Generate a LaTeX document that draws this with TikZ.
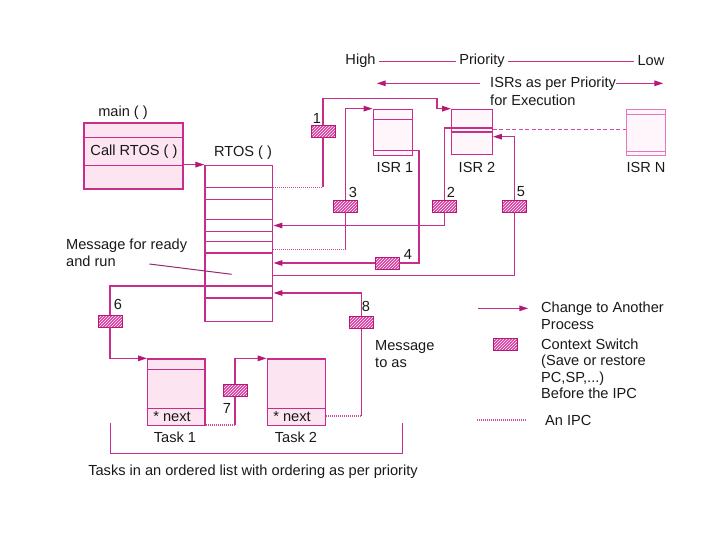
\documentclass[tikz,border=0pt]{standalone}
\usepackage{fontspec}
\setmainfont{Liberation Sans}
\usepackage{xcolor}
\usepackage{tikz}
\usetikzlibrary{arrows.meta,patterns,calc}

\definecolor{rtosmag}{RGB}{200,45,140}
\definecolor{tipmag}{RGB}{180,25,120}
\definecolor{ctxmag}{RGB}{215,60,160}
\definecolor{cellfill}{RGB}{252,228,240}
\definecolor{isrfill}{RGB}{254,246,250}
\definecolor{isrlight}{RGB}{228,120,190}
\definecolor{inktext}{RGB}{25,25,25}
\definecolor{pointink}{RGB}{150,40,110}

\begin{document}
\begin{tikzpicture}[
  x=1pt, y=-1pt,
  font=\fontsize{14.6}{16.5}\selectfont, text=inktext,
  blk/.style  ={draw=rtosmag, line width=1.3pt, inner sep=0pt},
  div/.style  ={draw=rtosmag, line width=1.1pt},
  ctx/.style  ={draw=tipmag, line width=0.8pt, preaction={fill=ctxmag},
                pattern=north east lines, pattern color=white,
                minimum width=24pt, minimum height=12pt, inner sep=0pt},
  num/.style  ={inner sep=1pt},
  flow/.style ={draw=rtosmag, line width=1.3pt,
                -{Triangle[length=9pt,width=5.5pt,color=tipmag]}},
  ipc/.style  ={draw=rtosmag!85, line width=1.1pt, dash pattern=on 1pt off 1pt},
  dashln/.style={draw=rtosmag!85, line width=1pt, dash pattern=on 4pt off 2.5pt},
  thinln/.style={draw=rtosmag, line width=0.9pt},
  txt/.style  ={anchor=north west, align=left, inner sep=0pt},
]
\useasboundingbox (0,0) rectangle (720,540);

% ---------------- priority header ----------------
\node (high) at (360.5,61) {High};
\node (prio) at (482,61) {Priority};
\node (low)  at (651,61) {Low};
\draw[thinln] (high.east) -- (prio.west);
\draw[thinln] (prio.east) -- (low.west);

\node[anchor=west, inner sep=0pt] (isrs) at (490,83.3) {ISRs as per Priority};
\node[anchor=west, inner sep=0pt] (exec) at (490,100) {for Execution};
\coordinate (hiend) at (376.7,83.3);
\coordinate (loend) at (663.3,83.3);
\draw[flow, shorten <=10pt] (isrs.west) -- (hiend);
\draw[flow] (isrs.east) -- (loend);

% ---------------- main and RTOS ----------------
\node[blk, fill=cellfill, minimum width=99pt, minimum height=66pt] (main) at (133.5,156) {};
\draw[div] (main.west |- 0,137.7) -- (main.east |- 0,137.7);
\draw[div] (main.west |- 0,165.7) -- (main.east |- 0,165.7);
\node (mainlbl) at (123,113) {main ( )};
\node (call) at (134,152) {Call RTOS ( )};

\node[blk, fill=white, minimum width=67.7pt, minimum height=156.4pt] (rtos) at (238.9,243.5) {};
\foreach \yy in {187.3,199.3,219.3,231.5,241.7,253,286,298}
  \draw[div] (rtos.west |- 0,\yy) -- (rtos.east |- 0,\yy);
\node (rtoslbl) at (243,153) {RTOS ( )};

\draw[flow] (main.east |- rtos.north) -- (rtos.north west);

% ---------------- ISRs ----------------
\node[blk, fill=isrfill, minimum width=39.4pt, minimum height=46.4pt] (isr1) at (393,132.5) {};
\draw[div] (isr1.west |- 0,119.3) -- (isr1.east |- 0,119.3);
\draw[div] (isr1.west |- 0,150.3) -- (isr1.east |- 0,150.3);
\node (isr1lbl) at (395,167) {ISR 1};

\node[blk, fill=isrfill, minimum width=40.6pt, minimum height=45pt] (isr2) at (472,131.8) {};
\draw[div] (isr2.west |- 0,128) -- (isr2.east |- 0,128);
\draw[div] (isr2.west |- 0,132) -- (isr2.east |- 0,132);
\node (isr2lbl) at (477,167) {ISR 2};

\node[blk, draw=isrlight, line width=1pt, fill=isrfill, minimum width=39.3pt, minimum height=46pt] (isrn) at (646.3,133) {};
\draw[div, draw=isrlight, line width=0.9pt] (isrn.west |- 0,114) -- (isrn.east |- 0,114);
\draw[div, draw=isrlight, line width=0.9pt] (isrn.west |- 0,151.7) -- (isrn.east |- 0,151.7);
\node (isrnlbl) at (646,167) {ISR N};

\draw[dashln] (isr2.east |- 0,129.3) -- (isrn.west |- 0,129.3);

% ---------------- tasks ----------------
\node[blk, fill=cellfill, minimum width=57.3pt, minimum height=66.7pt] (task1) at (176.35,392.35) {};
\draw[div] (task1.west |- 0,369.3) -- (task1.east |- 0,369.3);
\draw[div] (task1.west |- 0,408.3) -- (task1.east |- 0,408.3);
\node (next1) at (172,417) {* next};
\node (task1lbl) at (175,437) {Task 1};

\node[blk, fill=cellfill, minimum width=58.4pt, minimum height=66.7pt] (task2) at (296.5,392.35) {};
\draw[div] (task2.west |- 0,408.3) -- (task2.east |- 0,408.3);
\node (next2) at (292,417) {* next};
\node (task2lbl) at (296,437) {Task 2};

% ---------------- context switches ----------------
\node[ctx] (cs1) at (323,131) {};
\node[ctx] (cs3) at (345.5,206) {};
\node[ctx] (cs2) at (444.3,206) {};
\node[ctx] (cs5) at (514.5,206) {};
\node[ctx] (cs4) at (387,263) {};
\node[ctx] (cs6) at (110,321) {};
\node[ctx] (cs7) at (235,390.5) {};
\node[ctx] (cs8) at (361.7,322.5) {};

\node[num] at (317,118) {1};
\node[num] at (451,192) {2};
\node[num] at (353,192) {3};
\node[num] at (408,254) {4};
\node[num] at (521,192) {5};
\node[num] at (118,304) {6};
\node[num] at (227,408) {7};
\node[num] at (366,306) {8};

% ---------------- paths between RTOS, ISRs and tasks ----------------
\coordinate (p1)  at (323,187.3);
\coordinate (p1a) at (323,98.3);
\coordinate (p1b) at (437,98.3);
\draw[ipc] (rtos.east |- p1) -- (p1);
\draw[flow] (p1) -- (cs1) -- (p1a) -- (p1b) -- (p1b |- isr2.north west) -- (isr2.north west);

\coordinate (p2)  at (444.3,128);
\coordinate (p2a) at (444.3,225.5);
\draw[flow] (isr2.west |- p2) -- (p2) -- (cs2) -- (p2a) -- (rtos.east |- p2a);

\coordinate (p3) at (345.5,249.5);
\draw[ipc] (rtos.east |- p3) -- (p3);
\draw[flow] (p3) -- (cs3) -- (cs3 |- isr1.north west) -- (isr1.north west);

\coordinate (p4)  at (419,150.3);
\coordinate (p4a) at (419,263);
\draw[flow] (isr1.east |- p4) -- (p4) -- (p4a) -- (cs4) -- (rtos.east |- cs4);

\coordinate (p5)  at (514.5,275.7);
\coordinate (p5a) at (514.5,136.7);
\draw[flow] (rtos.east |- p5) -- (p5) -- (cs5) -- (p5a) -- (isr2.east |- p5a);

\coordinate (p6) at (110,286);
\draw[flow] (rtos.west |- p6) -- (p6) -- (cs6) -- (p6 |- task1.north west) -- (task1.north west);

\coordinate (p7) at (235,425);
\draw[ipc] (task1.east |- p7) -- (p7);
\draw[flow] (p7) -- (cs7) -- (p7 |- task2.north west) -- (task2.north west);

\coordinate (p8)  at (361.7,416);
\coordinate (p8a) at (361.7,293);
\draw[ipc] (task2.east |- p8) -- (p8);
\draw[flow] (p8) -- (cs8) -- (p8a) -- (rtos.east |- p8a);

% ---------------- notes ----------------
\node[txt] (msg) at (66,239) {Message for ready\\and run};
\coordinate (ma) at (149.3,264);
\coordinate (mb) at (231.7,274.3);
\draw[draw=pointink, line width=1pt] (ma) -- (mb);

\node[txt] (msgas) at (375,340.5) {Message\\to as};

\draw[thinln, line width=1.1pt] (110.7,422.7) -- (110.7,453.3) -- (402.3,453.3) -- (402.3,422.7);
\node (caption) at (253,471.7) {Tasks in an ordered list with ordering as per priority};

% ---------------- legend ----------------
\coordinate (lga) at (478.3,308.3);
\coordinate (lgb) at (528.3,308.3);
\draw[flow] (lga) -- (lgb);
\node[txt] (lgflow) at (541,302) {Change to Another\\Process};

\node[ctx] (lgctx) at (505.3,344.5) {};
\node[txt] (lgctxt) at (541,338.5) {Context Switch\\(Save or restore\\PC,SP,...)\\Before the IPC};

\coordinate (lgc) at (476.7,420);
\coordinate (lgd) at (525,420);
\draw[ipc] (lgc) -- (lgd);
\node[anchor=west, inner sep=0pt] (lgipc) at (545,420) {An IPC};

\end{tikzpicture}
\end{document}
